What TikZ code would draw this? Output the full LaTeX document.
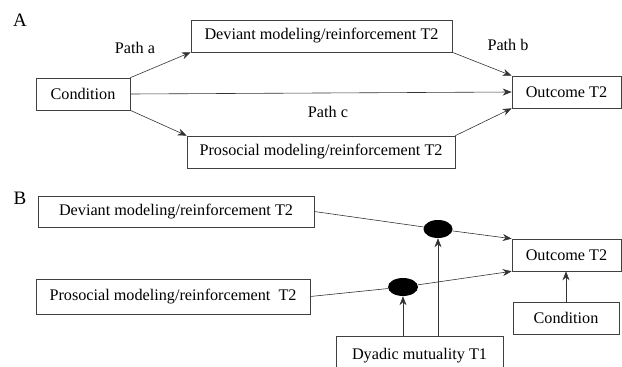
\documentclass[tikz,border=0pt]{standalone}
\usepackage{fontspec}
\setmainfont{Liberation Serif}
\usetikzlibrary{shapes.geometric,arrows.meta}
\begin{document}
\begin{tikzpicture}[x=1pt, y=-1pt, font=\fontsize{16.2}{18}\selectfont,
	box/.style={draw=black!75, line width=0.6pt, inner sep=0pt, minimum height=32pt},
	blob/.style={ellipse, fill=black, inner sep=0pt, minimum width=29pt, minimum height=18pt},
	panel/.style={font=\fontsize{19}{21}\selectfont},
	link/.style={draw=black!80, line width=0.6pt},
	arr/.style={link, -{Stealth[length=9pt, width=7pt]}}]
	\useasboundingbox (0,0) rectangle (622,367);

	% panel A
	\node [panel] (labA) at (20, 20) {A};

	\node [box, minimum width=94pt] (condA) at (83, 94) {Condition};
	\node [box, minimum width=261pt] (devA) at (321.5, 36) {Deviant modeling/reinforcement T2};
	\node [box, minimum width=268pt] (proA) at (321, 152) {Prosocial modeling/reinforcement T2};
	\node [box, minimum width=109pt] (outA) at (566.5, 92) {Outcome T2};

	\node (pa) at (135, 48) {Path a};
	\node (pb) at (508, 45) {Path b};
	\node (pc) at (328, 112) {Path c};

	\draw [arr] (condA.north east) -- (devA.south west);
	\draw [arr] (devA.south east) -- (outA.north west);
	\draw [arr] (condA.east) -- (outA.west);
	\draw [arr] (condA.south east) -- (proA.north west);
	\draw [arr] (proA.north east) -- (outA.south west);

	% panel B
	\node [panel] (labB) at (20, 198) {B};

	\node [box, minimum width=276pt, minimum height=31pt] (devB) at (176, 211.5) {Deviant modeling/reinforcement T2};
	\node [box, minimum width=274pt, minimum height=35pt] (proB) at (173, 296.5) {Prosocial modeling/reinforcement~ T2};
	\node [box, minimum width=109pt] (outB) at (566.5, 255) {Outcome T2};
	\node [box, minimum width=106pt] (condB) at (566, 318) {Condition};
	\node [box, minimum width=167pt, minimum height=40pt] (dy) at (419.5, 356) {\raisebox{3pt}{Dyadic mutuality T1}};

	\node [blob] (e1) at (438, 229) {};
	\node [blob, minimum width=30pt] (e2) at (403, 287) {};

	\draw [link] (devB.east) -- (e1);
	\draw [arr] (e1) -- (outB.north west);
	\draw [link] (proB.east) -- (e2);
	\draw [arr] (e2) -- (outB.south west);

	\draw [arr] (e2 |- dy.north) -- (e2.south);
	\draw [arr] (e1 |- dy.north) -- (e1.south);
	\draw [arr] (condB.north) -- (condB.north |- outB.south);
\end{tikzpicture}
\end{document}
